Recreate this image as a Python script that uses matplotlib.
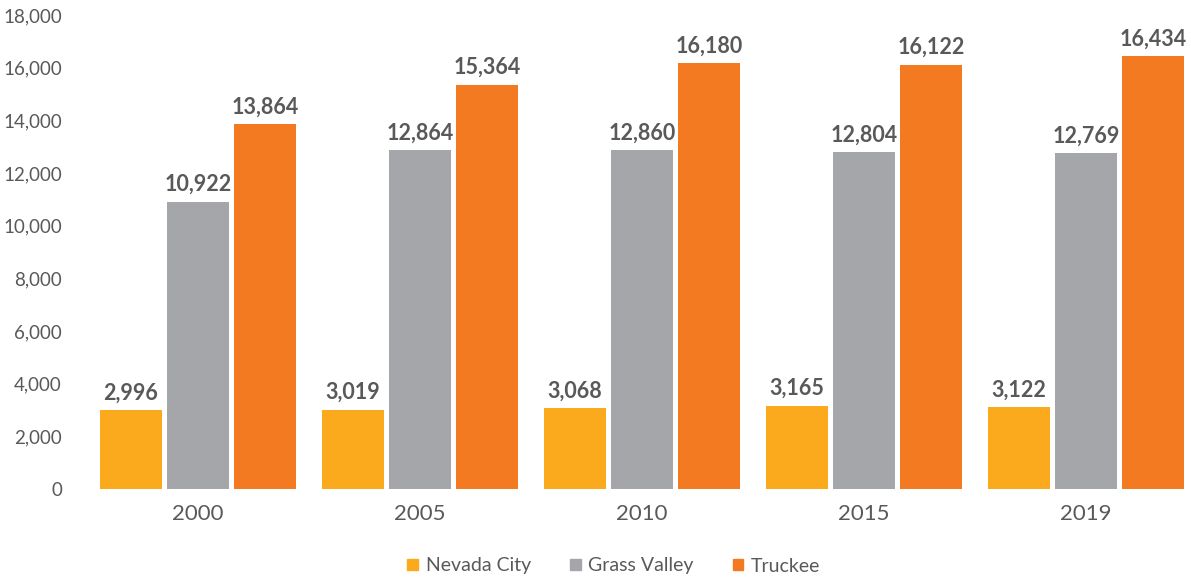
import matplotlib
matplotlib.use("Agg")
import matplotlib.pyplot as plt
import numpy as np
from matplotlib.patches import Patch

years = ["2000", "2005", "2010", "2015", "2019"]
series_names = ["Nevada City", "Grass Valley", "Truckee"]
nevada_city = [2996, 3019, 3068, 3165, 3122]
grass_valley = [10922, 12864, 12860, 12804, 12769]
truckee = [13864, 15364, 16180, 16122, 16434]
colors = ["#FAAA1C", "#A5A6A9", "#F47A22"]

plt.rcParams['font.family'] = ['Lato', 'DejaVu Sans']
txt = "#595959"

fig = plt.figure(figsize=(11.91, 5.77), dpi=100)
ax = fig.add_axes([87/1191, 1-489/577, (1191-87)/1191, (489-15.2)/577])

x = np.arange(len(years))
w = 0.28
off = 0.303
for i, (vals, name, c) in enumerate(zip([nevada_city, grass_valley, truckee], series_names, colors)):
    xs = x + (i-1)*off
    ax.bar(xs, vals, width=w, color=c, label=name)
    for xi, v in zip(xs, vals):
        ax.text(xi, v + 250, f"{v:,}", ha='center', va='bottom', fontsize=15.5,
                fontweight='bold', color=txt)

ax.set_xlim(-0.5, -0.5 + 1104/222)
ax.set_ylim(0, 18000)
ax.set_yticks(range(0, 18001, 2000))
ax.set_yticklabels([f"{v:,}" for v in range(0, 18001, 2000)], fontsize=13.5, color=txt)
ax.set_xticks(x)
ax.set_xticklabels(years, fontsize=16, color=txt)
ax.tick_params(axis='y', length=0, pad=18)
ax.tick_params(axis='x', length=0, pad=11)
for s in ax.spines.values():
    s.set_visible(False)

handles = [Patch(color=c, label=n) for c, n in zip(colors, series_names)]
fig.legend(handles=handles, loc='center', bbox_to_anchor=(614/1191, 1-566/577), ncol=3,
           frameon=False, fontsize=14, handlelength=0.55, handleheight=0.55,
           handletextpad=0.4, columnspacing=2.0, labelcolor=txt)

fig.savefig("out.png", dpi=100)
